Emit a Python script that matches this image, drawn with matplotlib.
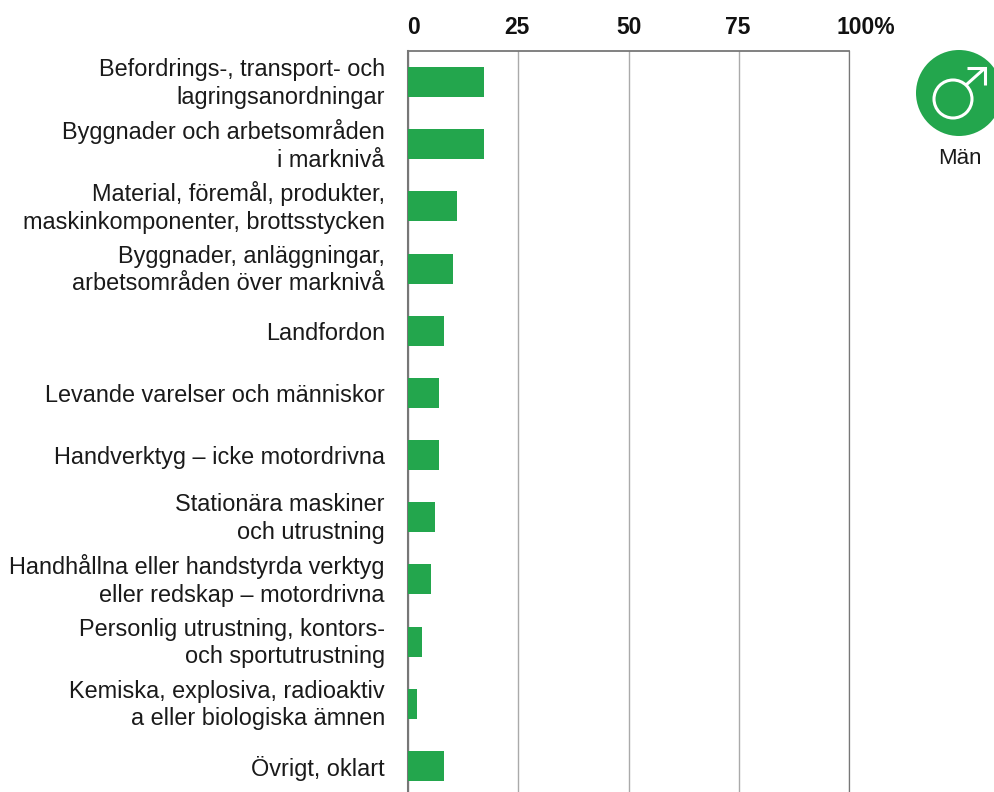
import matplotlib
matplotlib.use("Agg")
import matplotlib.pyplot as plt
from matplotlib.patches import Circle
from matplotlib.transforms import ScaledTranslation
import numpy as np

plt.rcParams["font.family"] = ["Liberation Sans", "DejaVu Sans"]

GREEN = "#23a64d"

categories = [
    "Befordrings-, transport- och\nlagringsanordningar",
    "Byggnader och arbetsområden\ni marknivå",
    "Material, föremål, produkter,\nmaskinkomponenter, brottsstycken",
    "Byggnader, anläggningar,\narbetsområden över marknivå",
    "Landfordon",
    "Levande varelser och människor",
    "Handverktyg – icke motordrivna",
    "Stationära maskiner\noch utrustning",
    "Handhållna eller handstyrda verktyg\neller redskap – motordrivna",
    "Personlig utrustning, kontors-\noch sportutrustning",
    "Kemiska, explosiva, radioaktiv\na eller biologiska ämnen",
    "Övrigt, oklart",
]
values = [17.3, 17.3, 11.1, 10.2, 8.2, 7.1, 7.1, 6.2, 5.3, 3.2, 2.1, 8.2]
ticks = [0, 25, 50, 75, 100]
tick_labels = ["0", "25", "50", "75", "100%"]
tick_shift = [6, -1, 0, -1, 16]

W, H = 995, 792
fig = plt.figure(figsize=(W / 100, H / 100), dpi=100)

# axes runs off the bottom of the picture, like the original
ax = fig.add_axes([407.8 / W, 0, 441.6 / W, (H - 51) / H])
y = np.arange(len(categories))
ax.barh(y, values, height=0.4825, color=GREEN, zorder=3)
ax.set_xlim(0, 100)
ax.set_ylim(11.42, -0.5)

ax.set_xticks(ticks)
ax.set_xticklabels([])
ax.tick_params(axis="x", length=0)
ax.grid(axis="x", color="#aaaaaa", linewidth=1.0, zorder=0)
ax.set_yticks(y)
ax.set_yticklabels(categories, fontsize=16.9, color="#1a1a1a", linespacing=1.26, ha="right", multialignment="right")
ax.tick_params(axis="y", length=0, pad=16.5)

# two-line labels sit a bit low otherwise
up = ScaledTranslation(0, 3.5 / 100, fig.dpi_scale_trans)
for lab in ax.get_yticklabels():
    if "\n" in lab.get_text():
        lab.set_transform(lab.get_transform() + up)

ax.spines["top"].set_color("#777777")
ax.spines["top"].set_linewidth(1.3)
ax.spines["left"].set_color("#777777")
ax.spines["left"].set_linewidth(1.5)
ax.spines["right"].set_color("#777777")
ax.spines["right"].set_linewidth(0.9)
ax.spines["bottom"].set_visible(False)

for t, lab, dx in zip(ticks, tick_labels, tick_shift):
    ax.annotate(lab, xy=(t, 1), xycoords=("data", "axes fraction"), xytext=(dx, 24),
                textcoords="offset pixels", ha="center", va="center",
                fontsize=16.5, fontweight="bold", color="#111111")

# male icon, in pixel coordinates
icon = fig.add_axes([0, 0, 1, 1], zorder=5)
icon.set_xlim(0, W)
icon.set_ylim(H, 0)
icon.axis("off")
icon.add_patch(Circle((959, 93), 43, color=GREEN, lw=0))
icon.add_patch(Circle((953, 99), 19, fill=False, ec="white", lw=2.2))
icon.plot([966, 985], [85, 68], color="white", lw=2.2, solid_capstyle="butt")
icon.plot([967, 985, 985], [68, 68, 85], color="white", lw=2.2, solid_joinstyle="miter", solid_capstyle="butt")
icon.text(960, 158, "Män", ha="center", va="center", fontsize=16, color="#1a1a1a")

fig.savefig("out.png", dpi=100)
